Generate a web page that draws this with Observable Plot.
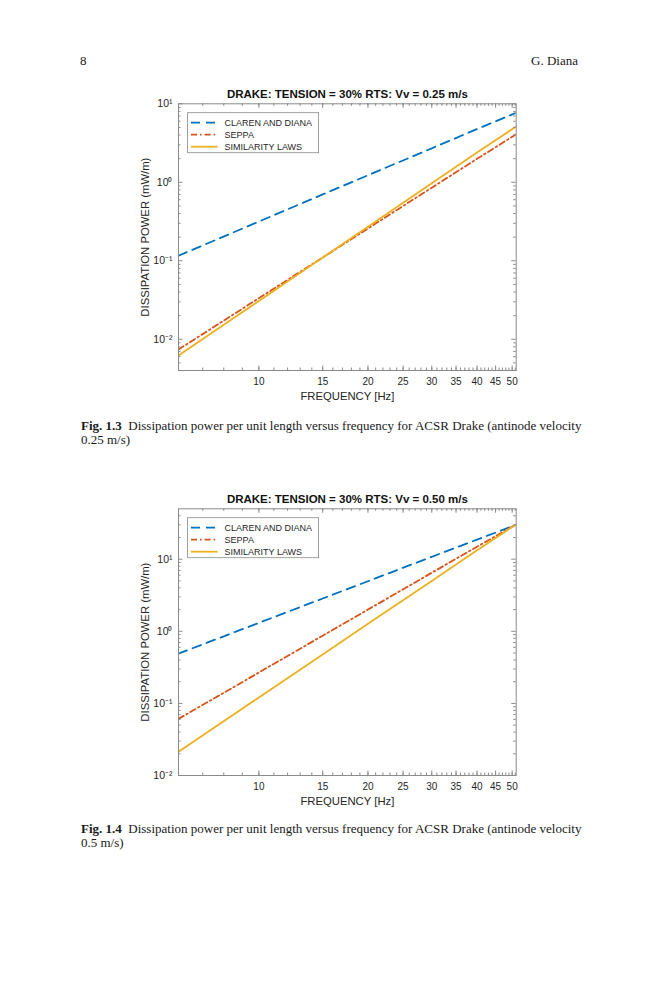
<!DOCTYPE html>
<html>
<head>
<meta charset="utf-8">
<script src="https://cdn.jsdelivr.net/npm/d3@7"></script>
<script src="https://cdn.jsdelivr.net/npm/@observablehq/plot@0.6"></script>
<style>
  html, body { margin: 0; padding: 0; background: #fff; }
  #page { position: relative; width: 659px; height: 1000px; background: #fff; overflow: hidden; }
  .serif { font-family: "Liberation Serif", "Times New Roman", serif; color: #1a1a1a; }
  .hdr { position: absolute; top: 54px; font-size: 13px; line-height: 14px; }
  .cap { position: absolute; left: 81px; width: 497px; font-size: 13px; line-height: 14px; }
  .cap .l1 { text-align: justify; text-align-last: justify; white-space: nowrap; }
  .chart { position: absolute; left: 0; }
  .chart svg { display: block; }
</style>
</head>
<body>
<div id="page">
  <div class="hdr serif" style="left:80px">8</div>
  <div class="hdr serif" style="right:81px">G. Diana</div>
  <div id="c1" class="chart" style="top:80px"></div>
  <div class="cap serif" style="top:419px">
    <div class="l1"><b>Fig. 1.3</b>&nbsp;&nbsp;Dissipation power per unit length versus frequency for ACSR Drake (antinode velocity</div>
    <div>0.25 m/s)</div>
  </div>
  <div id="c2" class="chart" style="top:485px"></div>
  <div class="cap serif" style="top:822px">
    <div class="l1"><b>Fig. 1.4</b>&nbsp;&nbsp;Dissipation power per unit length versus frequency for ACSR Drake (antinode velocity</div>
    <div>0.5 m/s)</div>
  </div>
</div>
<script>
// ---------- data ----------
const seriesNames = ["CLAREN AND DIANA", "SEPPA", "SIMILARITY LAWS"];
const seriesColors = ["#0072BD", "#D95319", "#EDB120"];

// frequencies [Hz] at which values were read
const freq = [6, 10, 15, 20, 30, 40, 51.3];

// Fig 1.3 : Vv = 0.25 m/s, dissipation power [mW/m]
const claren025 = [0.116, 0.316, 0.70, 1.23, 2.71, 4.77, 7.7];
const seppa025 = [0.0074, 0.0334, 0.110, 0.258, 0.854, 1.99, 4.1];
const similarity025 = [0.0062, 0.0308, 0.110, 0.272, 0.970, 2.39, 5.15];

// Fig 1.4 : Vv = 0.50 m/s
const claren050 = [0.49, 1.31, 2.85, 4.95, 10.8, 18.7, 30.0];
const seppa050 = [0.061, 0.268, 0.87, 2.0, 6.49, 14.9, 30.3];
const similarity050 = [0.0214, 0.121, 0.478, 1.27, 5.0, 13.3, 30.5];

// axes
const xDomain = [6, 51.3];
const xTicks = [10, 15, 20, 25, 30, 35, 40, 45, 50];
const xTickLabels = ["10", "15", "20", "25", "30", "35", "40", "45", "50"];
const xMinorTicks = d3.range(6, 52);
const yDomain1 = [0.004, 10];
const yDomain2 = [0.01, 50];
const yTicks1 = [0.01, 0.1, 1, 10];
const yTickLabels1 = ["10⁻²", "10⁻¹", "10⁰", "10¹"];
const yTicks2 = [0.01, 0.1, 1, 10];
const yTickLabels2 = ["10⁻²", "10⁻¹", "10⁰", "10¹"];
const yMinorMultipliers = [2, 3, 4, 5, 6, 7, 8, 9];
const yDecades = [0.001, 0.01, 0.1, 1, 10];

const title1 = "DRAKE: TENSION = 30% RTS: Vv = 0.25 m/s";
const title2 = "DRAKE: TENSION = 30% RTS: Vv = 0.50 m/s";
const xLabel = "FREQUENCY [Hz]";
const yLabel = "DISSIPATION POWER (mW/m)";

// ---------- styling ----------
const dashes = ["9,6", "6,3,1.6,3", null];
const W = 659, H = 330;
const mL = 178, mR = 143.3, mT = 23.3, mB = 40;
const plotW = W - mL - mR, plotH = H - mT - mB;
const axisGray = "#8a8a8a";
const textColor = "#262626";

function legendMark() {
  return (index, scales, values, dims) => {
    const g = d3.create("svg:g");
    const x0 = dims.marginLeft + 9.6, y0 = dims.marginTop + 9.4;
    g.append("rect").attr("x", x0).attr("y", y0).attr("width", 131).attr("height", 40)
      .attr("fill", "white").attr("stroke", axisGray).attr("stroke-width", 0.8);
    seriesNames.forEach((n, i) => {
      const y = y0 + 10 + i * 12;
      g.append("line").attr("x1", x0 + 3.4).attr("x2", x0 + 30).attr("y1", y).attr("y2", y)
        .attr("stroke", seriesColors[i]).attr("stroke-width", 1.8)
        .attr("stroke-dasharray", dashes[i]);
      g.append("text").attr("x", x0 + 37).attr("y", y).attr("dy", "0.35em")
        .attr("text-anchor", "start")
        .attr("font-size", 9).attr("fill", textColor).text(n);
    });
    return g.node();
  };
}

function makeChart({title, yDomain, yTicks, yTickLabels, series}) {
  const rows = series.map((vals) => freq.map((f, i) => ({f, p: vals[i]})));
  const yMinor = yDecades.flatMap(d => yMinorMultipliers.map(m => d * m))
    .filter(v => v > yDomain[0] && v < yDomain[1]);
  const yIdx = yTicks.map((t, i) => i).filter(i => yTicks[i] >= yDomain[0] && yTicks[i] <= yDomain[1]);
  const yMajor = yIdx.map(i => yTicks[i]);
  const xMinor = xMinorTicks.filter(v => v > xDomain[0] && v < xDomain[1]);
  return Plot.plot({
    width: W, height: H,
    marginLeft: mL, marginRight: mR, marginTop: mT, marginBottom: mB,
    style: {fontFamily: "'Liberation Sans', Arial, sans-serif", fontSize: "10px", color: textColor, background: "white"},
    x: {type: "log", domain: xDomain, label: null, axis: null},
    y: {type: "log", domain: yDomain, label: null, axis: null},
    marks: [
      ...rows.map((r, i) => Plot.line(r, {
        x: "f", y: "p", stroke: seriesColors[i], strokeWidth: 1.8,
        strokeDasharray: dashes[i] ?? undefined, clip: true
      })),
      Plot.frame({stroke: axisGray, strokeWidth: 1}),
      Plot.tickX(xMinor, {x: d => d, stroke: axisGray, insetTop: plotH - 2.5}),
      Plot.tickX(xMinor, {x: d => d, stroke: axisGray, insetBottom: plotH - 2.5}),
      Plot.tickX(xTicks, {x: d => d, stroke: axisGray, insetTop: plotH - 4.5}),
      Plot.tickX(xTicks, {x: d => d, stroke: axisGray, insetBottom: plotH - 4.5}),
      Plot.tickY(yMinor, {y: d => d, stroke: axisGray, insetRight: plotW - 2.5}),
      Plot.tickY(yMinor, {y: d => d, stroke: axisGray, insetLeft: plotW - 2.5}),
      Plot.tickY(yMajor, {y: d => d, stroke: axisGray, insetRight: plotW - 4.5}),
      Plot.tickY(yMajor, {y: d => d, stroke: axisGray, insetLeft: plotW - 4.5}),
      // tick labels
      Plot.text(xTicks, {x: d => d, text: (d, i) => xTickLabels[i], frameAnchor: "bottom",
        lineAnchor: "middle", textAnchor: "middle", dy: 11.5, fontSize: 10, fill: textColor}),
      Plot.text(yIdx, {y: i => yTicks[i], text: i => yTickLabels[i], frameAnchor: "left",
        lineAnchor: "middle", textAnchor: "end", dx: -6, fontSize: 10.5, fill: textColor}),
      // title and axis labels
      Plot.text([title], {text: d => d, frameAnchor: "top", lineAnchor: "middle", textAnchor: "middle", dy: -9, fontWeight: "bold", fontSize: 11.5, fill: "#111"}),
      Plot.text([xLabel], {text: d => d, frameAnchor: "bottom", lineAnchor: "middle", textAnchor: "middle", dy: 26, fontSize: 11.3, fill: textColor}),
      Plot.text([yLabel], {text: d => d, frameAnchor: "left", lineAnchor: "middle", textAnchor: "middle", rotate: -90, dx: -33, fontSize: 11.3, fill: textColor}),
      legendMark()
    ]
  });
}

document.getElementById("c1").append(makeChart({
  title: title1, yDomain: yDomain1, yTicks: yTicks1, yTickLabels: yTickLabels1,
  series: [claren025, seppa025, similarity025]
}));
document.getElementById("c2").append(makeChart({
  title: title2, yDomain: yDomain2, yTicks: yTicks2, yTickLabels: yTickLabels2,
  series: [claren050, seppa050, similarity050]
}));
</script>
</body>
</html>
